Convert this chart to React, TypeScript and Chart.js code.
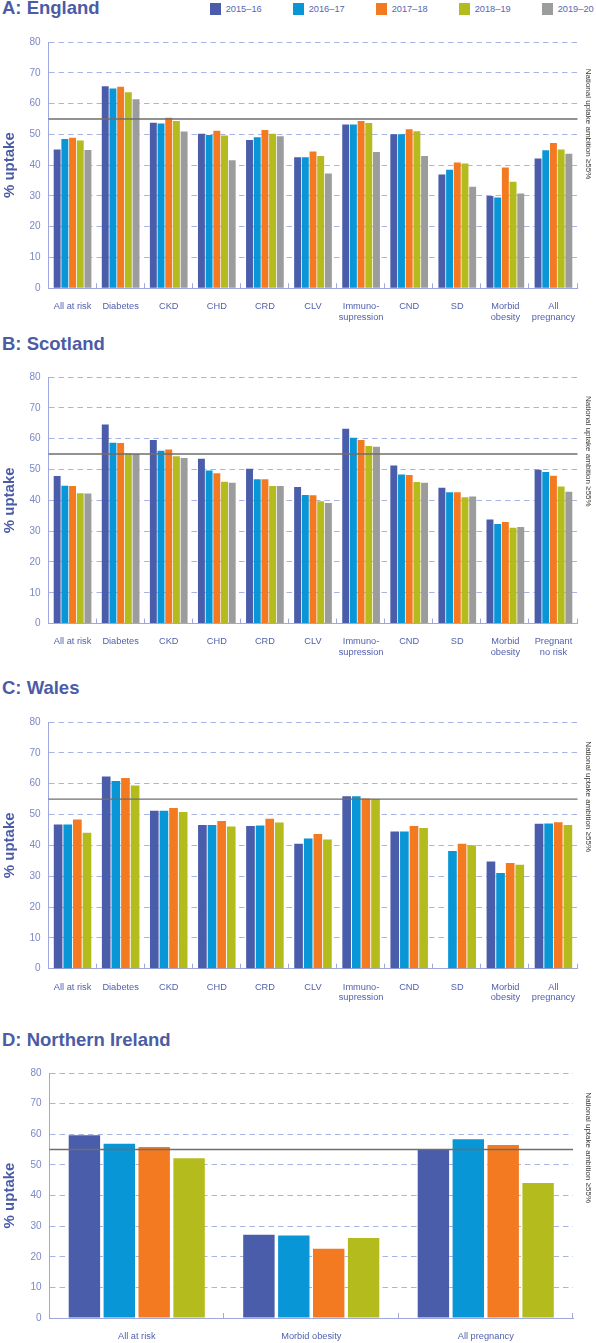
import React, { useEffect, useRef } from 'react';
import { Chart, registerables } from 'chart.js';

Chart.register(...registerables);

// ---------- data ----------
const SERIES_LABELS = ['2015–16', '2016–17', '2017–18', '2018–19', '2019–20'];
const SERIES_COLORS = ['#4a5dab', '#0996d6', '#f47a21', '#b3bb1d', '#9c9c9c'];

const AMBITION = 55;
const AMBITION_NOTE = 'National uptake ambition ≥55%';
const Y_TICKS_MAX = 80;
const Y_TICKS_STEP = 10;

const GB_CATEGORIES = [
  ['All at risk'], ['Diabetes'], ['CKD'], ['CHD'], ['CRD'], ['CLV'],
  ['Immuno-', 'supression'], ['CND'], ['SD'], ['Morbid', 'obesity'], ['All', 'pregnancy'],
];
const SCOTLAND_CATEGORIES = [
  ['All at risk'], ['Diabetes'], ['CKD'], ['CHD'], ['CRD'], ['CLV'],
  ['Immuno-', 'supression'], ['CND'], ['SD'], ['Morbid', 'obesity'], ['Pregnant', 'no risk'],
];
const NI_CATEGORIES = [['All at risk'], ['Morbid obesity'], ['All pregnancy']];

// England
const ENGLAND_2015_16 = [45.1, 65.6, 53.8, 50.2, 48.2, 42.6, 53.2, 50.0, 37.0, 30.0, 42.2];
const ENGLAND_2016_17 = [48.5, 64.9, 53.5, 49.8, 49.1, 42.6, 53.2, 50.0, 38.5, 29.5, 44.8];
const ENGLAND_2017_18 = [48.9, 65.5, 55.4, 51.2, 51.4, 44.4, 54.3, 51.7, 40.9, 39.2, 47.2];
const ENGLAND_2018_19 = [48.0, 63.7, 54.3, 49.6, 50.2, 43.0, 53.7, 51.0, 40.5, 34.6, 45.1];
const ENGLAND_2019_20 = [44.9, 61.4, 50.9, 41.6, 49.4, 37.3, 44.3, 43.0, 33.0, 30.8, 43.7];

// Scotland
const SCOTLAND_2015_16 = [47.9, 64.6, 59.6, 53.5, 50.2, 44.3, 63.2, 51.3, 44.1, 33.8, 49.9];
const SCOTLAND_2016_17 = [44.7, 58.7, 56.1, 49.7, 46.8, 41.7, 60.3, 48.4, 42.6, 32.3, 49.2];
const SCOTLAND_2017_18 = [44.6, 58.6, 56.5, 48.8, 46.8, 41.6, 59.6, 48.2, 42.6, 33.0, 48.0];
const SCOTLAND_2018_19 = [42.3, 55.2, 54.3, 46.0, 44.6, 39.7, 57.6, 45.9, 41.0, 31.1, 44.5];
const SCOTLAND_2019_20 = [42.2, 55.0, 53.7, 45.7, 44.6, 39.1, 57.4, 45.7, 41.2, 31.3, 42.8];

// Wales
const WALES_2015_16 = [46.8, 62.3, 51.2, 46.6, 46.3, 40.5, 55.9, 44.5, null, 34.8, 47.0];
const WALES_2016_17 = [46.8, 60.9, 51.2, 46.6, 46.4, 42.2, 55.9, 44.5, 38.2, 31.0, 47.1];
const WALES_2017_18 = [48.4, 61.8, 52.1, 47.9, 48.6, 43.7, 55.2, 46.3, 40.5, 34.3, 47.5];
const WALES_2018_19 = [44.1, 59.4, 50.8, 46.1, 47.4, 41.9, 55.0, 45.6, 40.0, 33.7, 46.6];

// Northern Ireland
const NI_2015_16 = [59.7, 27.2, 55.0];
const NI_2016_17 = [56.9, 26.9, 58.4];
const NI_2017_18 = [55.8, 22.6, 56.5];
const NI_2018_19 = [52.2, 26.1, 44.1];

// ---------- styles ----------
const FONT = '"Liberation Sans", Arial, Helvetica, sans-serif';
const TITLE_COLOR = '#4b5ca6';
const XLABEL_COLOR = '#4f5fae';
const YLABEL_COLOR = '#7b87c6';
const AXIS_COLOR = '#9ea8de';
const GRID_COLOR = '#a9b3e4';
const AMBITION_COLOR = '#6e6e6e';
const NOTE_COLOR = '#3a3a3a';
const PAD_TOP = 14;
const W = 596;

type Panel = {
  key: string;
  title: string;
  titleTop: number;
  categories: string[][];
  series: (number | null)[][];
  plotTop: number;
  plotBottom: number;
  left: number;
  right: number;
  noteCenter: number;
  bottomArea: number;
};

const PANELS: Panel[] = [
  {
    key: 'A', title: 'A: England', titleTop: -2.4,
    categories: GB_CATEGORIES,
    series: [ENGLAND_2015_16, ENGLAND_2016_17, ENGLAND_2017_18, ENGLAND_2018_19, ENGLAND_2019_20],
    plotTop: 42, plotBottom: 288.3, left: 48.5, right: 577.5, noteCenter: 124, bottomArea: 40,
  },
  {
    key: 'B', title: 'B: Scotland', titleTop: 333.6,
    categories: SCOTLAND_CATEGORIES,
    series: [SCOTLAND_2015_16, SCOTLAND_2016_17, SCOTLAND_2017_18, SCOTLAND_2018_19, SCOTLAND_2019_20],
    plotTop: 376.7, plotBottom: 623.3, left: 48.5, right: 577.5, noteCenter: 451, bottomArea: 40,
  },
  {
    key: 'C', title: 'C: Wales', titleTop: 677.6,
    categories: GB_CATEGORIES,
    series: [WALES_2015_16, WALES_2016_17, WALES_2017_18, WALES_2018_19],
    plotTop: 722.3, plotBottom: 969, left: 48.5, right: 577.5, noteCenter: 797, bottomArea: 40,
  },
  {
    key: 'D', title: 'D: Northern Ireland', titleTop: 1030.3,
    categories: NI_CATEGORIES,
    series: [NI_2015_16, NI_2016_17, NI_2017_18, NI_2018_19],
    plotTop: 1073.3, plotBottom: 1318.3, left: 49.5, right: 573, noteCenter: 1148, bottomArea: 24.7,
  },
];

const overlayPlugin = {
  id: 'overlay',
  afterDatasetsDraw(chart: any, _args: any, opts: any) {
    const { ctx, chartArea, scales } = chart;
    const xs = scales.x;
    const ys = scales.y;
    ctx.save();
    // ambition line
    const y = ys.getPixelForValue(opts.ambition);
    ctx.strokeStyle = AMBITION_COLOR;
    ctx.lineWidth = 1.4;
    ctx.beginPath();
    ctx.moveTo(chartArea.left, y);
    ctx.lineTo(chartArea.right, y);
    ctx.stroke();
    // category boundary ticks (pointing into the plot)
    const n = xs.ticks.length;
    ctx.strokeStyle = AXIS_COLOR;
    ctx.lineWidth = 1;
    for (let i = 1; i <= n; i++) {
      const px = Math.round(xs.left + (xs.width * i) / n) - 0.5;
      ctx.beginPath();
      ctx.moveTo(px, chartArea.bottom);
      ctx.lineTo(px, chartArea.bottom - 5);
      ctx.stroke();
    }
    // rotated note on right
    ctx.fillStyle = NOTE_COLOR;
    ctx.font = `8px ${FONT}`;
    ctx.translate(opts.noteX, opts.noteY);
    ctx.rotate(Math.PI / 2);
    ctx.textAlign = 'center';
    ctx.textBaseline = 'middle';
    ctx.fillText(opts.note, 0, 0);
    ctx.restore();
  },
};

function PanelChart({ panel }: { panel: Panel }) {
  const ref = useRef<HTMLCanvasElement | null>(null);
  const canvasTop = panel.plotTop - PAD_TOP;
  const plotH = panel.plotBottom - panel.plotTop;
  const canvasH = Math.ceil(PAD_TOP + plotH + panel.bottomArea);

  useEffect(() => {
    if (!ref.current) return;
    const chart = new Chart(ref.current, {
      type: 'bar',
      data: {
        labels: panel.categories as any,
        datasets: panel.series.map((d, i) => ({
          label: SERIES_LABELS[i],
          data: d as any,
          backgroundColor: SERIES_COLORS[i],
          borderWidth: 0,
          barPercentage: 0.9,
          categoryPercentage: 0.8,
        })),
      },
      options: {
        animation: false,
        responsive: false,
        maintainAspectRatio: false,
        devicePixelRatio: 1,
        layout: { padding: { top: PAD_TOP, left: 0, right: W - panel.right, bottom: 0 } },
        plugins: {
          legend: { display: false },
          tooltip: { enabled: false },
          overlay: {
            ambition: AMBITION,
            note: AMBITION_NOTE,
            noteX: 588.5,
            noteY: panel.noteCenter - canvasTop,
          },
        } as any,
        scales: {
          x: {
            grid: { display: false, drawTicks: false },
            border: { display: true, color: AXIS_COLOR, width: 1 },
            ticks: {
              color: XLABEL_COLOR,
              font: { family: FONT, size: 9.25, lineHeight: 1.15 },
              padding: 13,
              maxRotation: 0,
              minRotation: 0,
              autoSkip: false,
            },
            afterFit: (s: any) => {
              s.height = canvasH - PAD_TOP - plotH;
            },
          },
          y: {
            min: 0,
            max: Y_TICKS_MAX,
            ticks: {
              stepSize: Y_TICKS_STEP,
              color: YLABEL_COLOR,
              font: { family: FONT, size: 10 },
              padding: 8,
            },
            grid: {
              color: (c: any) => (c.tick && c.tick.value === 0 ? 'rgba(0,0,0,0)' : GRID_COLOR),
              lineWidth: 1,
              drawTicks: false,
            },
            border: { display: true, color: AXIS_COLOR, width: 1, dash: [5.5, 4] },
            title: {
              display: true,
              text: '% uptake',
              color: TITLE_COLOR,
              font: { family: FONT, size: 15, weight: 'bold' },
              padding: { top: 1, bottom: 0 },
            },
            afterFit: (s: any) => {
              s.width = panel.left;
            },
          },
        },
      },
      plugins: [overlayPlugin as any],
    });
    return () => chart.destroy();
  }, [panel]);

  return (
    <canvas
      ref={ref}
      width={W}
      height={canvasH}
      style={{ position: 'absolute', left: 0, top: canvasTop, width: W, height: canvasH }}
    />
  );
}

function Title({ text, top }: { text: string; top: number }) {
  return (
    <div
      style={{
        position: 'absolute',
        left: 2,
        top,
        font: `bold 18.5px ${FONT}`,
        lineHeight: '20px',
        color: TITLE_COLOR,
        whiteSpace: 'nowrap',
      }}
    >
      {text}
    </div>
  );
}

function Legend() {
  return (
    <>
      {SERIES_LABELS.map((lab, i) => {
        const x = 210 + i * 83;
        return (
          <React.Fragment key={lab}>
            <div
              style={{
                position: 'absolute',
                left: x,
                top: 3.3,
                width: 11,
                height: 11.7,
                background: SERIES_COLORS[i],
              }}
            />
            <div
              style={{
                position: 'absolute',
                left: x + 15.7,
                top: 3,
                font: `9.25px ${FONT}`,
                lineHeight: '12px',
                color: '#5866ae',
                whiteSpace: 'nowrap',
              }}
            >
              {lab}
            </div>
          </React.Fragment>
        );
      })}
    </>
  );
}

export default function App() {
  useEffect(() => {
    document.body.style.margin = '0';
    document.body.style.overflow = 'hidden';
    document.body.style.background = '#ffffff';
  }, []);
  return (
    <div style={{ position: 'relative', width: W, height: 1343, background: '#fff', overflow: 'hidden' }}>
      {PANELS.map((p) => (
        <React.Fragment key={p.key}>
          <Title text={p.title} top={p.titleTop} />
          <PanelChart panel={p} />
        </React.Fragment>
      ))}
      <Legend />
    </div>
  );
}
